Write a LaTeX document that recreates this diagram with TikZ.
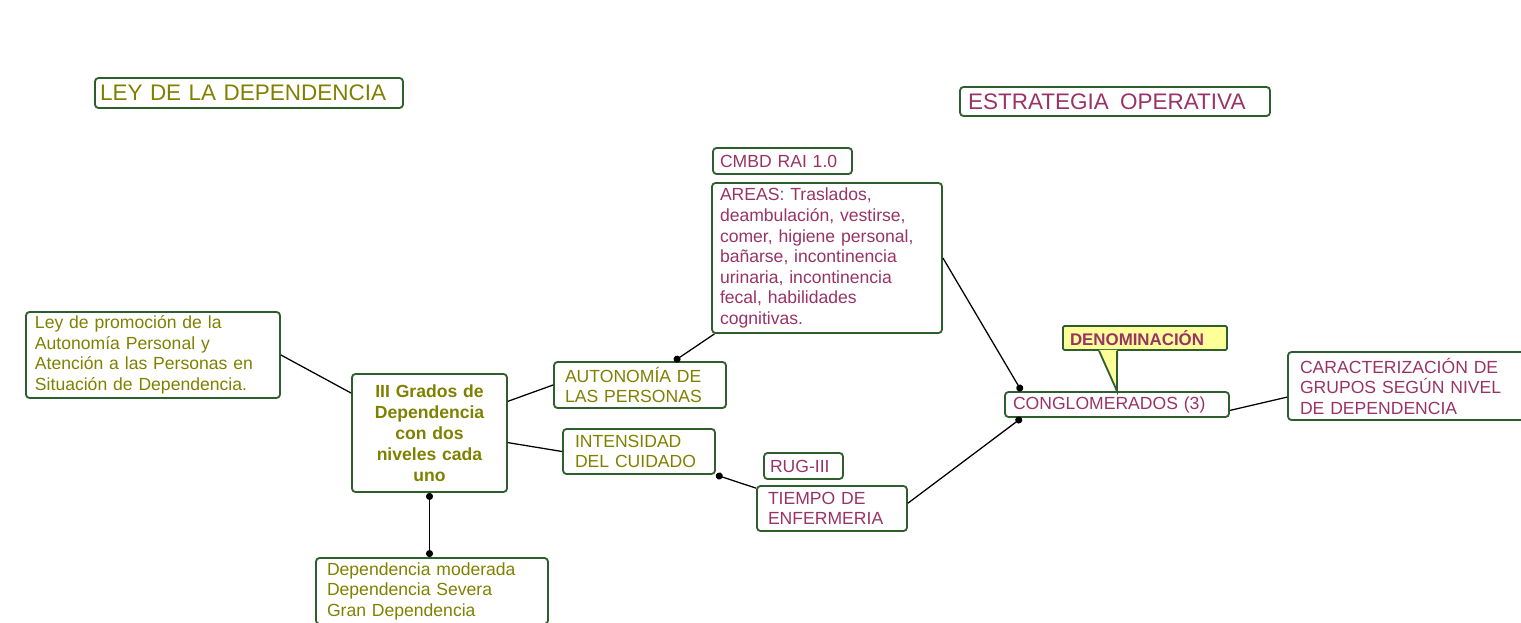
\documentclass[tikz,border=0pt]{standalone}
\usepackage{fontspec}
\setmainfont{Liberation Sans}
\usetikzlibrary{arrows.meta}
\definecolor{oliva}{HTML}{808000}
\definecolor{prugna}{HTML}{993366}
\definecolor{bordo}{HTML}{2E5E2E}
\definecolor{giallo}{HTML}{FFFF99}

\begin{document}
\begin{tikzpicture}[
    concetto/.style={draw=bordo, line width=1.3pt, rounded corners=2.5pt, inner xsep=0.2cm, inner ysep=0pt, align=left,
                     font=\fontsize{12.5}{14.6}\selectfont},
    titolo/.style={concetto, font=\fontsize{16}{19}\selectfont},
    legame/.style={line width=0.9pt},
    punto/.style={legame, -{Circle[length=5pt]}}
]
    \useasboundingbox (0,0) rectangle (38.025,15.55);

    % Titoli
    \node[titolo, text=oliva, inner xsep=0.125cm, text width=7.45cm, minimum height=0.75cm] (leytit) at (6.225,13.225) {LEY DE LA DEPENDENCIA};
    \node[titolo, text=prugna, text width=7.35cm, minimum height=0.725cm] (estrategia) at (27.875,13.0125) {ESTRATEGIA\, OPERATIVA};

    % Concetti a sinistra
    \node[concetto, text=oliva, inner xsep=0.225cm, text width=5.9cm, minimum height=2.15cm] (ley) at (3.825,6.675)
        {Ley de promoción de la\\Autonomía Personal y\\Atención a las Personas en\\Situación de Dependencia.};
    \node[concetto, text=oliva, align=center, text width=3.475cm, minimum height=2.95cm,
          font=\fontsize{12.5}{14.9}\selectfont\bfseries] (grados) at (10.7375,4.725)
        {III Grados de\\Dependencia\\con dos\\niveles cada\\uno};
    \node[concetto, text=oliva, inner xsep=0.275cm, text width=5.25cm, minimum height=1.65cm] (dep) at (10.8,0.775)
        {Dependencia moderada\\Dependencia Severa\\Gran Dependencia};
    \node[concetto, text=oliva, inner xsep=0.275cm, text width=3.75cm, minimum height=1.15cm] (auton) at (16.0,5.925)
        {AUTONOMÍA DE\\LAS PERSONAS};
    \node[concetto, text=oliva, inner xsep=0.3cm, text width=3.2cm, minimum height=1.125cm] (intens) at (15.975,4.2625)
        {INTENSIDAD\\DEL CUIDADO};

    % Concetti al centro
    \node[concetto, text=prugna, inner xsep=0.175cm, text width=3.125cm, minimum height=0.65cm] (cmbd) at (19.5625,11.525) {CMBD RAI 1.0};
    \node[concetto, text=prugna, text width=5.35cm, minimum height=3.75cm] (areas) at (20.675,9.1)
        {AREAS: Traslados,\\deambulación, vestirse,\\comer, higiene personal,\\bañarse, incontinencia\\urinaria, incontinencia\\fecal, habilidades\\cognitivas.};
    \node[concetto, text=prugna, inner xsep=0.15cm, text width=1.675cm, minimum height=0.65cm] (rug) at (20.0875,3.9) {RUG-III};
    \node[concetto, text=prugna, inner xsep=0.275cm, text width=3.2cm, minimum height=1.125cm] (tiempo) at (20.8,2.8375)
        {TIEMPO DE\\ENFERMERIA};

    % Concetti a destra
    \node[concetto, text=prugna, text width=5.2cm, minimum height=0.625cm] (congl) at (27.925,5.4375) {CONGLOMERADOS (3)};
    \node[concetto, text=prugna, fill=giallo, rounded corners=1pt, inner xsep=0.175cm, text width=3.75cm, minimum height=0.6cm,
          font=\fontsize{12}{14}\selectfont\bfseries] (denom) at (28.625,7.1) {DENOMINACIÓN};
    \node[concetto, text=prugna, inner xsep=0.3cm, text width=5.7cm, minimum height=1.7cm] (caract) at (35.35,5.9)
        {CARACTERIZACIÓN DE\\GRUPOS SEGÚN NIVEL\\DE DEPENDENCIA};

    % Punta del richiamo
    \fill[giallo] ([xshift=0.925cm,yshift=0.8pt]denom.south west) -- (congl.north) -- ([xshift=1.375cm,yshift=0.8pt]denom.south west) -- cycle;
    \draw[bordo, line width=1.3pt] ([xshift=0.925cm]denom.south west) -- (congl.north) -- ([xshift=1.375cm]denom.south west);

    % Collegamenti
    \foreach \a/\b in {ley.east/grados.153, grados.22/auton.west, grados.-7/intens.west, congl.-3/caract.185}
        \draw[legame] (\a) -- (\b);
    \foreach \a/\b in {areas.214/auton.35, areas.east/congl.172, tiempo.4/congl.188}
        \draw[punto] (\a) -- (\b);
    \draw[legame, {Circle[length=5pt]}-] (intens.south east) -- (tiempo.165);
    \draw[legame, {Circle[length=5pt]}-{Circle[length=5pt]}] (grados.south) -- (grados.south |- dep.north);
\end{tikzpicture}
\end{document}
